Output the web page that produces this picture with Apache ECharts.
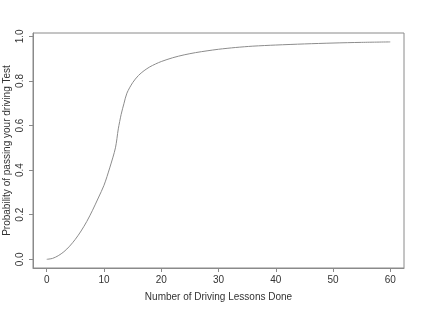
<!DOCTYPE html>
<html style="height: 100%">
<head>
    <meta charset="utf-8">
</head>
<body style="margin: 0; height: 100%; background: #fff;">
<div id="container" style="width: 422px; height: 309px;"></div>
<script type="text/javascript" src="https://cdn.jsdelivr.net/npm/echarts@6/dist/echarts.min.js"></script>
<script type="text/javascript">
    // lessons done (x) and probability of passing (y)
    var lessons = [0, 1, 2, 3, 4, 5, 6, 7, 8, 9, 10, 11, 12, 12.5, 13, 13.5, 14, 15, 16, 17, 18, 19, 20,
        22, 24, 26, 28, 30, 33, 36, 40, 45, 50, 55, 60];
    var probability = [0, 0.004, 0.016, 0.034, 0.059, 0.090, 0.127, 0.170, 0.220, 0.275, 0.332, 0.410, 0.500,
        0.585, 0.650, 0.700, 0.745, 0.792, 0.824, 0.846, 0.863, 0.876, 0.887,
        0.904, 0.917, 0.927, 0.935, 0.942, 0.950, 0.956, 0.961, 0.966, 0.970, 0.973, 0.975];
    var xTicks = [0, 10, 20, 30, 40, 50, 60];
    var yTicks = [0, 0.2, 0.4, 0.6, 0.8, 1.0];

    var points = [];
    for (var i = 0; i < lessons.length; i++) {
        points.push([lessons[i], probability[i]]);
    }

    var myChart = echarts.init(document.getElementById('container'));
    var font = "'Liberation Sans', Arial, sans-serif";
    var edge = '#8a8a8a';

    var option = {
        animation: false,
        grid: {
            left: 33,
            right: 18,
            top: 33,
            bottom: 41,
            outerBoundsMode: 'none',
            containLabel: false,
            show: true,
            borderColor: edge,
            borderWidth: 1
        },
        xAxis: {
            type: 'value',
            min: -2.4,
            max: 62.4,
            axisLine: {show: true, onZero: false, lineStyle: {color: edge}},
            splitLine: {show: false},
            axisTick: {
                show: true,
                customValues: xTicks,
                length: 4,
                lineStyle: {color: edge, width: 1}
            },
            axisLabel: {
                customValues: xTicks,
                margin: 7,
                fontSize: 10,
                fontFamily: font,
                color: '#333'
            },
            name: 'Number of Driving Lessons Done',
            nameLocation: 'middle',
            nameGap: 24,
            nameMoveOverlap: false,
            nameTextStyle: {fontSize: 10, fontFamily: font, color: '#333'}
        },
        yAxis: {
            type: 'value',
            min: -0.039,
            max: 1.015,
            axisLine: {show: true, onZero: false, lineStyle: {color: edge}},
            splitLine: {show: false},
            axisTick: {
                show: true,
                customValues: yTicks,
                length: 4,
                lineStyle: {color: edge, width: 1}
            },
            axisLabel: {
                customValues: yTicks,
                rotate: 90,
                margin: 8,
                fontSize: 10,
                fontFamily: font,
                color: '#333',
                formatter: function (v) { return v.toFixed(1); }
            },
            name: 'Probability of passing your driving Test',
            nameLocation: 'middle',
            nameGap: 21,
            nameMoveOverlap: false,
            nameTextStyle: {fontSize: 10, fontFamily: font, color: '#333'}
        },
        series: [{
            type: 'line',
            data: points,
            showSymbol: false,
            smooth: 0.3,
            lineStyle: {color: '#8c8c8c', width: 1}
        }]
    };

    myChart.setOption(option);
</script>
</body>
</html>
